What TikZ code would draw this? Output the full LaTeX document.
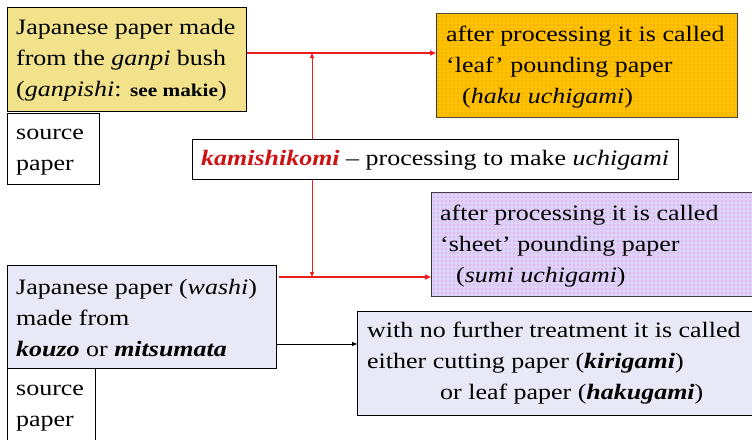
\documentclass[tikz,border=0pt]{standalone}
\usepackage{fontspec}
\setmainfont{Liberation Serif}[FakeStretch=1.18]
\usetikzlibrary{arrows.meta,patterns.meta}

\definecolor{ganpiyellow}{RGB}{242,226,140}
\definecolor{hakugold}{RGB}{255,192,0}
\definecolor{hakudot}{RGB}{215,140,20}
\definecolor{sumililac}{RGB}{222,210,248}
\definecolor{sumidot}{RGB}{205,120,200}
\definecolor{washigrey}{RGB}{232,232,246}
\definecolor{linkred}{RGB}{235,30,30}
\definecolor{termred}{RGB}{205,20,20}

\tikzdeclarepattern{
  name=finedots,
  type=uncolored,
  bottom left={(-.5pt,-.5pt)},
  top right={(4.5pt,4.5pt)},
  tile size={(4pt,4pt)},
  code={\fill (2pt,2pt) circle (0.6pt);}
}

\tikzset{
  box/.style={draw=black, line width=0.9pt, anchor=north west, inner sep=0pt},
  boxtext/.style={anchor=west, inner sep=0pt, font=\fontsize{22}{31}\selectfont, align=left},
  dotted gold/.style={fill=hakugold, postaction={pattern=finedots, pattern color=hakudot}},
  dotted lilac/.style={fill=sumililac, postaction={pattern=finedots, pattern color=sumidot}},
  redlink/.style={draw=linkred, line width=1.4pt, -{Triangle[length=6pt,width=5pt]}},
  redfeed/.style={draw=linkred, line width=0.9pt, -{Triangle[length=5pt,width=4pt]}},
  blacklink/.style={draw=black, line width=0.9pt, -{Triangle[length=5pt,width=4pt]}},
}

\begin{document}
\begin{tikzpicture}[x=1pt,y=-1pt]
  \useasboundingbox (0,0) rectangle (752,439);
  \clip (0,0) rectangle (752,439);
  \fill[white] (0,0) rectangle (752,439);

  % boxes
  \node[box, fill=ganpiyellow, minimum width=239pt, minimum height=104pt] (ganpi) at (7,7) {};
  \node[box, fill=white, minimum width=92pt, minimum height=71pt] (src1) at (7,113) {};
  \node[box, dotted gold, draw=black!75, minimum width=301pt, minimum height=104pt] (haku) at (436,13) {};
  \node[box, fill=white, minimum width=486pt, minimum height=40pt] (kami) at (192,139) {};
  \node[box, dotted lilac, draw=black!80, minimum width=340pt, minimum height=104pt] (sumi) at (431,192) {};
  \node[box, fill=washigrey, minimum width=269pt, minimum height=103pt] (washi) at (7,265) {};
  \node[box, fill=white, minimum width=88pt, minimum height=90pt] (src2) at (7,368) {};
  \node[box, fill=washigrey, minimum width=410pt, minimum height=104pt] (kiri) at (357,311) {};

  % texts
  \node[boxtext] (t1) at (16,60) {Japanese paper made\\from the \textit{ganpi} bush\\(\textit{ganpishi}: {\fontsize{18}{18}\selectfont\bfseries see makie})};
  \node[boxtext] (t2) at (16,152) {source\\paper};
  \node[boxtext] (t3) at (446,67) {after processing it is called\\‘leaf’ pounding paper\\\hspace*{16pt}(\textit{haku uchigami})};
  \node[boxtext] (t4) at (201,160) {\textcolor{termred}{\textbf{\textit{kamishikomi}}} – processing to make \textit{uchigami}};
  \node[boxtext] (t5) at (440,246) {after processing it is called\\‘sheet’ pounding paper\\\hspace*{16pt}(\textit{sumi uchigami})};
  \node[boxtext] (t6) at (16,318) {Japanese paper (\textit{washi})\\made from\\\textbf{\textit{kouzo}} or \textbf{\textit{mitsumata}}};
  \node[boxtext] (t7) at (16,408) {source\\paper};
  \node[boxtext] (t8) at (367,363) {with no further treatment it is called\\either cutting paper (\textbf{\textit{kirigami}})\\\hspace*{73pt}or leaf paper (\textbf{\textit{hakugami}})};

  % junctions on the red links
  \coordinate (j1) at (312,53);
  \coordinate (j2) at (312,277);

  % connectors
  \draw[redlink] (ganpi.east |- j1) -- (haku.west |- j1);
  \draw[redfeed] (kami.north -| j1) -- (j1);
  \draw[redlink] ([xshift=2pt]washi.east |- j2) -- (sumi.west |- j2);
  \draw[redfeed] (kami.south -| j2) -- (j2);
  \coordinate (k1) at (276,344);
  \draw[blacklink] (washi.east |- k1) -- (kiri.west |- k1);
\end{tikzpicture}
\end{document}
